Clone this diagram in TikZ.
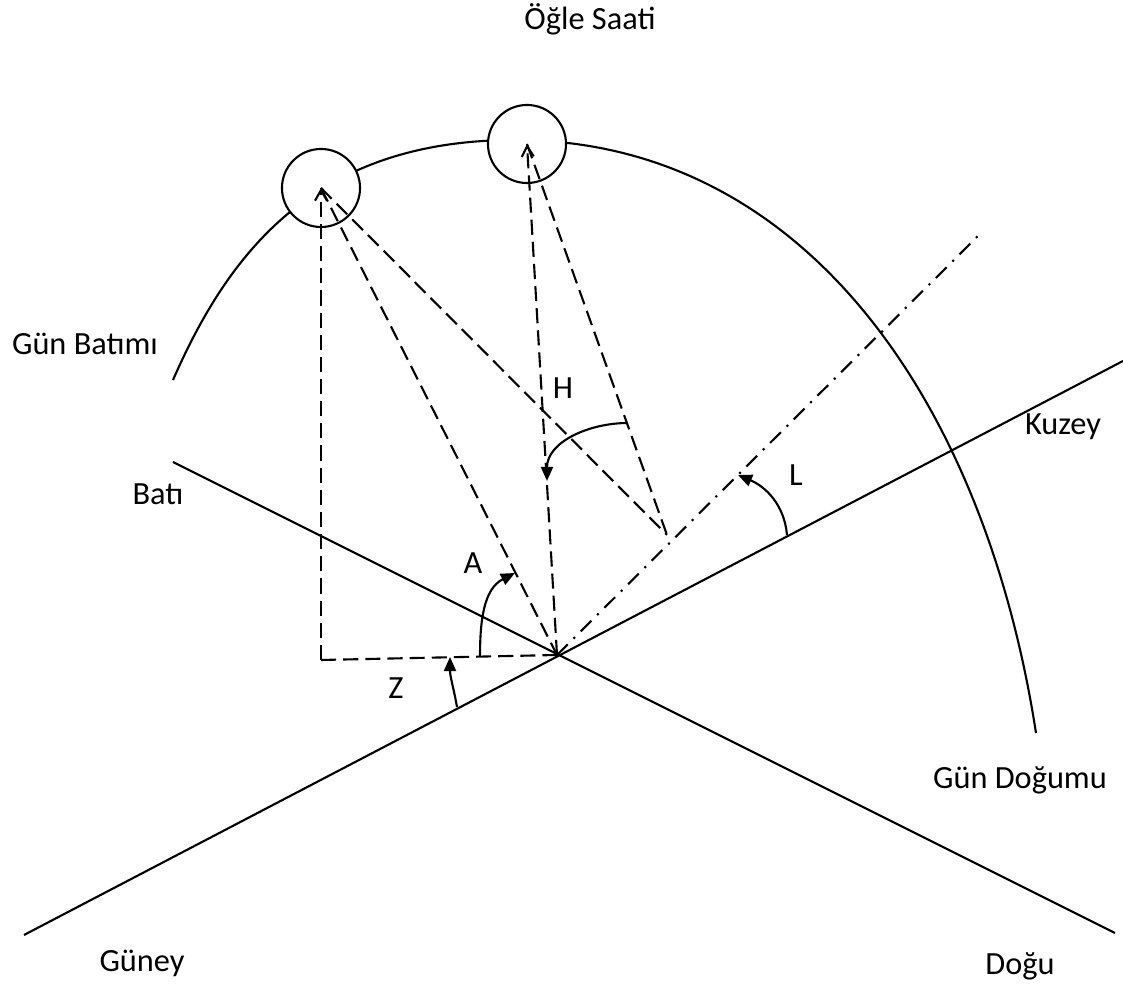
\documentclass[tikz,border=0pt]{standalone}
\usepackage{fontspec}
\setmainfont{Carlito}
\usetikzlibrary{arrows.meta}

\begin{document}
\begin{tikzpicture}[x=0.01cm, y=0.01cm, line width=0.6pt,
    lbl/.style={font=\fontsize{9.2}{11}\selectfont, inner sep=0pt, anchor=base},
    letter/.style={font=\fontsize{9.2}{11}\selectfont, inner sep=0pt},
    sun/.style={circle, draw, fill=white, minimum size=0.78cm, inner sep=0pt},
    dsh/.style={dash pattern=on 4.3pt off 2pt},
    dshdot/.style={dash pattern=on 4.3pt off 2.3pt on 0.6pt off 2.3pt},
    angarr/.style={-{Triangle[length=4pt,width=3.4pt]}},
    sunarr/.style={-{Straight Barb[length=3pt,width=3.4pt]}}]
    \useasboundingbox (0,0) rectangle (1123,994);

    % Key points
    \coordinate (o) at (557,339);
    \coordinate (p) at (667,459);
    \coordinate (f) at (321,334);
    \coordinate (dd) at (980,760);

    % Compass lines
    \coordinate (gu) at (24,59);
    \coordinate (ku) at (1123,633);
    \coordinate (ba) at (173,532);
    \coordinate (dg) at (1115,61);
    \draw (gu) -- (ku);
    \draw (ba) -- (dg);

    % Sun path
    \draw (173,614) .. controls (229,742) and (315,854) .. (515,854)
          .. controls (805,854) and (985,591) .. (1036,261);

    % Sun positions
    \node[sun] (s1) at (321,806) {};
    \node[sun] (s2) at (527,850) {};

    % Projections
    \draw[dsh, sunarr] (f) -- (s1.center);
    \draw[dsh] (f) -- (o);
    \draw[dsh] (s1.center) -- (o);
    \draw[dsh] (s1.center) -- (p);
    \draw[dsh, sunarr] (o) -- (s2.center);
    \draw[dsh] (s2.center) -- (p);
    \draw[dshdot] (o) -- (dd);

    % Angles
    \coordinate (z1) at (457,287);
    \coordinate (z2) at (450,337);
    \coordinate (a1) at (480,337);
    \coordinate (a2) at (515,421);
    \coordinate (h1) at (628,571);
    \coordinate (h2) at (547,513);
    \coordinate (l1) at (787,459);
    \coordinate (l2) at (738,519);
    \draw[angarr] (z1) to[out=100, in=-90] (z2);
    \draw[angarr] (a1) to[out=90, in=207] (a2);
    \draw[angarr] (h1) to[out=180, in=90] (h2);
    \draw[angarr] (l1) to[out=95, in=-23] (l2);
    \node[letter] (zt) at (396,306) {Z};
    \node[letter] (at) at (473,431) {A};
    \node[letter] (ht) at (563,606) {H};
    \node[letter] (lt) at (796,519) {L};

    % Labels
    \node[lbl] (ogle) at (590,964) {Öğle Saati};
    \node[lbl] (batim) at (85,639) {Gün Batımı};
    \node[lbl] (bati) at (158,489) {Batı};
    \node[lbl] (kuzey) at (1063,559) {Kuzey};
    \node[lbl] (dogum) at (1020,205) {Gün Doğumu};
    \node[lbl] (guney) at (142,22) {Güney};
    \node[lbl] (dogu) at (1020,19) {Doğu};
\end{tikzpicture}
\end{document}
